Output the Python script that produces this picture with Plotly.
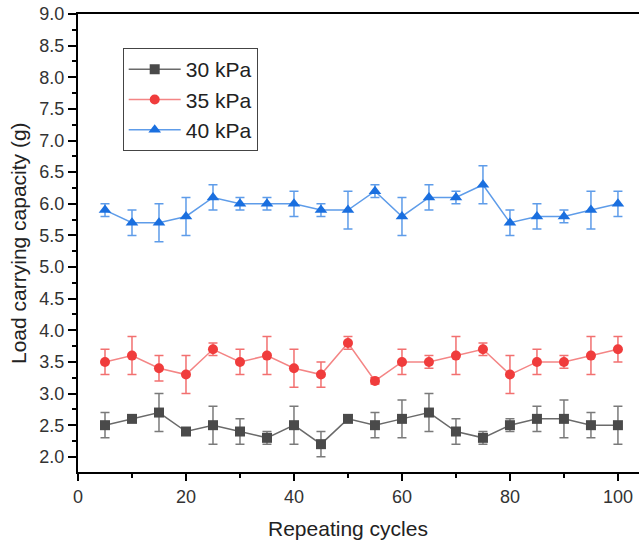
import plotly.graph_objects as go

cycles = [5, 10, 15, 20, 25, 30, 35, 40, 45, 50, 55, 60, 65, 70, 75, 80, 85, 90, 95, 100]

load_30 = [2.5, 2.6, 2.7, 2.4, 2.5, 2.4, 2.3, 2.5, 2.2, 2.6, 2.5, 2.6, 2.7, 2.4, 2.3, 2.5, 2.6, 2.6, 2.5, 2.5]
err_30 = [0.2, 0.05, 0.3, 0.05, 0.3, 0.2, 0.1, 0.3, 0.2, 0.05, 0.2, 0.3, 0.3, 0.2, 0.1, 0.1, 0.2, 0.3, 0.2, 0.3]

load_35 = [3.5, 3.6, 3.4, 3.3, 3.7, 3.5, 3.6, 3.4, 3.3, 3.8, 3.2, 3.5, 3.5, 3.6, 3.7, 3.3, 3.5, 3.5, 3.6, 3.7]
err_35 = [0.2, 0.3, 0.2, 0.3, 0.1, 0.2, 0.3, 0.3, 0.2, 0.1, 0.05, 0.2, 0.1, 0.3, 0.1, 0.3, 0.2, 0.1, 0.3, 0.2]

load_40 = [5.9, 5.7, 5.7, 5.8, 6.1, 6.0, 6.0, 6.0, 5.9, 5.9, 6.2, 5.8, 6.1, 6.1, 6.3, 5.7, 5.8, 5.8, 5.9, 6.0]
err_40 = [0.1, 0.2, 0.3, 0.3, 0.2, 0.1, 0.1, 0.2, 0.1, 0.3, 0.1, 0.3, 0.2, 0.1, 0.3, 0.2, 0.2, 0.1, 0.3, 0.2]

series_names = ["30 kPa", "35 kPa", "40 kPa"]

FONT = "Liberation Sans, Arial, sans-serif"

styles = [
    dict(marker="square", mcolor="#4a4a4a", lcolor="#6a6a6a", ecolor="#7a7a7a", size=10),
    dict(marker="circle", mcolor="#f03c3c", lcolor="#f48585", ecolor="#f27070", size=10),
    dict(marker="triangle-up", mcolor="#1a6fdf", lcolor="#5e9ce9", ecolor="#5e9ce9", size=11),
]

fig = go.Figure()
for name, ys, es, st in zip(series_names, [load_30, load_35, load_40], [err_30, err_35, err_40], styles):
    fig.add_trace(go.Scatter(
        x=cycles, y=ys, name=name, mode="lines+markers",
        line=dict(color=st["lcolor"], width=1.5),
        marker=dict(symbol=st["marker"], color=st["mcolor"], size=st["size"]),
        error_y=dict(type="data", array=es, visible=True, color=st["ecolor"], thickness=1.5, width=4.5),
    ))

W, H = 639, 547
L, R, T, B = 78, 0, 14, 75
PW, PH = W - L - R, H - T - B

fig.update_layout(
    width=W, height=H,
    margin=dict(l=L, r=R, t=T, b=B, autoexpand=False),
    paper_bgcolor="white", plot_bgcolor="white",
    font=dict(family=FONT, color="#333333"),
    showlegend=True,
    legend=dict(
        x=(122.7 - L) / PW, y=(472 - 48) / PH,
        xanchor="left", yanchor="top",
        bordercolor="#444444", borderwidth=1, bgcolor="white",
        font=dict(size=21, family=FONT, color="#222222"),
        tracegroupgap=0, itemwidth=52,
    ),
    xaxis=dict(
        range=[0, 103.9], dtick=20, tick0=0, automargin=False,
        showgrid=False, zeroline=False,
        showline=True, linecolor="black", linewidth=2, mirror=True,
        ticks="outside", ticklen=7, tickwidth=2, tickcolor="black",
        tickfont=dict(size=18, family=FONT, color="#333333"),
        minor=dict(dtick=10, ticklen=4, tickwidth=2, tickcolor="black", ticks="outside", showgrid=False),
    ),
    yaxis=dict(
        range=[1.76, 9.0], dtick=0.5, tick0=0, tickformat=".1f", automargin=False,
        showgrid=False, zeroline=False,
        showline=True, linecolor="black", linewidth=2, mirror=False,
        ticks="outside", ticklen=8, tickwidth=2, tickcolor="black",
        tickfont=dict(size=18, family=FONT, color="#333333"),
        minor=dict(dtick=0.25, ticklen=4, tickwidth=2, tickcolor="black", ticks="outside", showgrid=False),
    ),
    annotations=[
        dict(
            text="Repeating cycles", xref="paper", yref="paper",
            x=(348 - L) / PW, y=-(528 - 472) / PH,
            xanchor="center", yanchor="middle", showarrow=False,
            font=dict(size=21, family=FONT, color="#222222"),
        ),
        dict(
            text="Load carrying capacity (g)", xref="paper", yref="paper",
            x=-(L - 18) / PW, y=(472 - 243) / PH, textangle=-90,
            xanchor="center", yanchor="middle", showarrow=False,
            font=dict(size=21, family=FONT, color="#222222"),
        ),
    ],
)

fig.write_html(
    "out.html",
    config={"displayModeBar": False},
    post_script="document.body.style.margin='0';document.body.style.overflow='hidden';",
)
